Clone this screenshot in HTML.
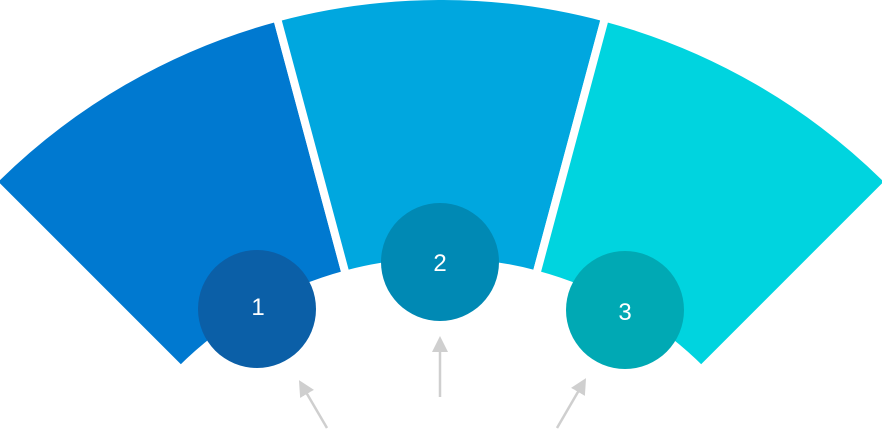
<!DOCTYPE html>
<html><head><meta charset="utf-8"><style>
html,body{margin:0;padding:0;background:#fff;}
svg{display:block;}
</style></head><body>
<svg width="882" height="431" viewBox="0 0 882 431" xmlns="http://www.w3.org/2000/svg">
<defs>
<marker id="ah" markerWidth="16" markerHeight="16" refX="8" refY="8" orient="auto" markerUnits="userSpaceOnUse">
<path d="M0,0 L16,8 L0,16 z" fill="#cfcfcf"/>
</marker>
</defs>
<g stroke="#fff" stroke-width="8" stroke-linejoin="miter">
<path d="M-7.3,181.7 A634,634 0 0 1 276.9,17.6 L345.8,274.5 A368,368 0 0 0 180.8,369.8 Z" fill="#0079d0"/>
<path d="M276.9,17.6 A634,634 0 0 1 605.1,17.6 L536.2,274.5 A368,368 0 0 0 345.8,274.5 Z" fill="#00a7df"/>
<path d="M605.1,17.6 A634,634 0 0 1 889.3,181.7 L701.2,369.8 A368,368 0 0 0 536.2,274.5 Z" fill="#00d4df"/>
</g>
<circle cx="257" cy="309" r="59" fill="#0b5fa7"/>
<circle cx="440" cy="262" r="59" fill="#0089b4"/>
<circle cx="625" cy="310" r="59" fill="#00a9b4"/>
<g font-family="Liberation Sans, sans-serif" font-size="24" fill="#fff" text-anchor="middle">
<text x="258" y="315">1</text>
<text x="440" y="271">2</text>
<text x="625" y="320">3</text>
</g>
<g stroke="#cfcfcf" stroke-width="2.5" fill="none">
<line x1="327" y1="428" x2="303" y2="387" marker-end="url(#ah)"/>
<line x1="440" y1="397" x2="440" y2="344" marker-end="url(#ah)"/>
<line x1="557" y1="428" x2="582" y2="385" marker-end="url(#ah)"/>
</g>
</svg>
</body></html>
